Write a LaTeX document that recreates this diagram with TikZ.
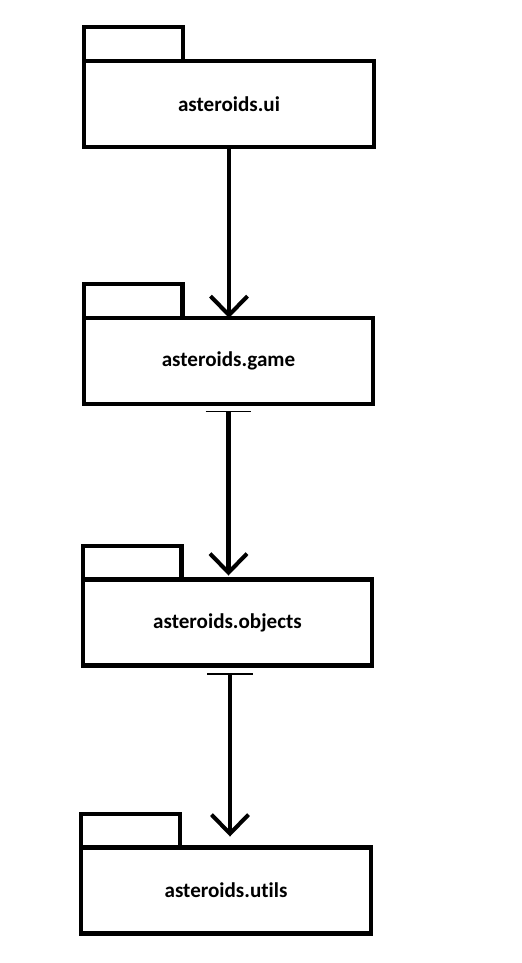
\documentclass[tikz,border=0pt]{standalone}
\usepackage{fontspec}
\setmainfont{Carlito}[Ligatures=NoCommon]
\usetikzlibrary{arrows.meta,positioning}

\begin{document}
\begin{tikzpicture}[x=0.02cm, y=-0.02cm,
  pkgbox/.style={draw, line width=2.3pt, minimum width=5.8cm, minimum height=1.72cm, inner sep=0pt, outer sep=0pt, font=\bfseries\fontsize{12}{14}\selectfont},
  pkgtab/.style={draw, line width=2.3pt, minimum width=1.98cm, minimum height=0.68cm, inner sep=0pt, outer sep=0pt, anchor=south west},
  dep/.style={line width=2.3pt, -{Straight Barb[length=0.38cm, width=0.74cm]}},
  usedep/.style={line width=2.3pt, {Bar[width=0.92cm, line width=0.6pt]}-{Straight Barb[length=0.38cm, width=0.74cm]}},
]
\useasboundingbox (0,0) rectangle (521,963);

% packages
\node[pkgbox] (ui) at (229,104) {asteroids.ui};
\node[pkgtab] (uitab) at (ui.north west) {};

\node[pkgbox] (game) at (228.5,361) {asteroids.game};
\node[pkgtab] (gametab) at (game.north west) {};

\node[pkgbox] (objects) at (227.5,622.5) {asteroids.objects};
\node[pkgtab] (objectstab) at (objects.north west) {};

\node[pkgbox] (utils) at (226,890.5) {asteroids.utils};
\node[pkgtab] (utilstab) at (utils.north west) {};

% dependencies
\draw[dep] (ui.south) -- (ui.south |- game.north);
\draw[usedep, shorten <=0.14cm, shorten >=0.08cm] (game.south) -- (game.south |- objects.north);
\draw[usedep, shorten <=0.16cm, shorten >=0.22cm] ([xshift=0.05cm]objects.south) -- ([xshift=0.05cm]objects.south |- utils.north);

\end{tikzpicture}
\end{document}
